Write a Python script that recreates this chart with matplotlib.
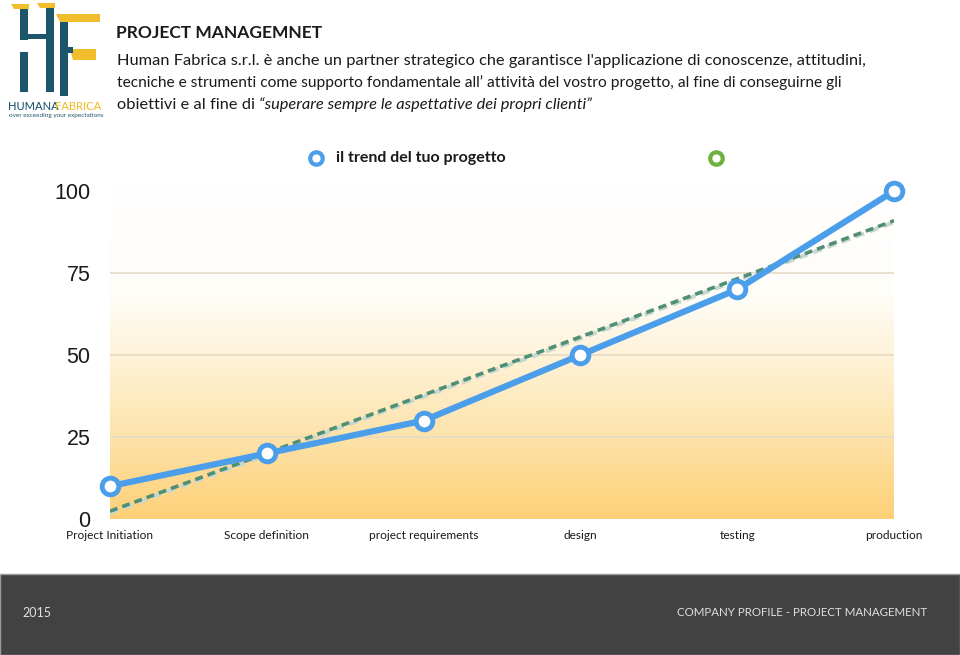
import numpy as np
import matplotlib
matplotlib.use("Agg")
from matplotlib import pyplot as plt
from matplotlib.colors import LinearSegmentedColormap
from matplotlib.patches import Rectangle, Polygon
from matplotlib.lines import Line2D

# data
phases = ["Project Initiation", "Scope definition", "project requirements",
          "design", "testing", "production"]
trend_values = [10, 20, 30, 50, 70, 100]
y_ticks = [0, 25, 50, 75, 100]
legend_label = "il trend del tuo progetto"

title = "PROJECT MANAGEMNET"
body_lines = [
    "Human Fabrica s.r.l. è anche un partner strategico che garantisce l'applicazione di conoscenze, attitudini,",
    "tecniche e strumenti come supporto fondamentale all’ attività del vostro progetto, al fine di conseguirne gli",
]
body_last_plain = "obiettivi e al fine di "
body_last_italic = "“superare sempre le aspettative dei propri clienti”"
footer_left = "2015"
footer_right = "COMPANY PROFILE - PROJECT MANAGEMENT"

BLUE = "#4A9EEA"
GREEN_LINE = "#4E8F76"
GREEN_MARK = "#6DB23F"
TEAL = "#1D566B"
GOLD = "#F2BD2C"
TXT = "#1A1A1A"

plt.rcParams["font.family"] = ["Lato", "DejaVu Sans"]

W, H = 960, 655
fig = plt.figure(figsize=(W / 100, H / 100), dpi=100)
fig.patch.set_facecolor("white")


def fx(px):
    return px / W


def fy(py):
    return 1 - py / H


# chart axes: x 0..5 -> px 110..894, y 0..102 -> px 519..184.4
ymax = 102
top_px = 519 - ymax * 3.28
ax = fig.add_axes([fx(110), fy(519), fx(894) - fx(110), fy(top_px) - fy(519)])
x = np.arange(len(phases))
ax.set_xlim(0, len(phases) - 1)
ax.set_ylim(0, ymax)

# gradient background
cmap = LinearSegmentedColormap.from_list("bg", ["#FDD077", "#FEE9BC", "#FFFDF8", "#FFFFFF"])
grad = np.linspace(0, 1, 256).reshape(-1, 1)
ax.imshow(grad, aspect="auto", cmap=cmap, origin="lower",
          extent=[0, len(phases) - 1, 0, ymax], zorder=0)

for yt in y_ticks[1:-1]:
    ax.axhline(yt, color="#E5DAC6", lw=1.2, zorder=1)

# linear trend through the series
slope, intercept = np.polyfit(x, trend_values, 1)
fit = slope * x + intercept
ax.plot(x, fit - 0.5, color="#C9D8CF", lw=3, ls=(0, (2.2, 1.4)), zorder=2)
ax.plot(x, fit, color=GREEN_LINE, lw=2.6, ls=(0, (2.2, 1.4)), zorder=3)

ax.plot(x, trend_values, color=BLUE, lw=4.5, marker="o", markersize=12,
        markerfacecolor="white", markeredgecolor=BLUE, markeredgewidth=3.5,
        zorder=4, clip_on=False)

ax.set_xticks(x)
ax.set_xticklabels(phases, fontsize=8.6, color=TXT)
ax.set_yticks(y_ticks)
ax.set_yticklabels([str(v) for v in y_ticks], fontsize=15.5, color=TXT,
                   family=["Liberation Sans"])
ax.tick_params(axis="x", length=0, pad=8)
ax.tick_params(axis="y", length=0, pad=14)
for s in ax.spines.values():
    s.set_visible(False)

# legend
fig.add_artist(Line2D([fx(316)], [fy(158)], marker="o", markersize=9,
                      markerfacecolor="white", markeredgecolor=BLUE,
                      markeredgewidth=3, transform=fig.transFigure))
fig.text(fx(336), fy(158), legend_label, fontsize=11.5, fontweight="bold",
         color=TXT, va="center", ha="left")
fig.add_artist(Line2D([fx(716)], [fy(158)], marker="o", markersize=9,
                      markerfacecolor="white", markeredgecolor=GREEN_MARK,
                      markeredgewidth=3, transform=fig.transFigure))

# header text
fig.text(fx(116), fy(33), title, fontsize=12.5, fontweight="bold", color=TXT,
         va="center", ha="left")
fig.text(fx(117), fy(61), body_lines[0], fontsize=11.8, color=TXT, va="center")
fig.text(fx(117), fy(83), body_lines[1], fontsize=11.2, color=TXT, va="center")
t = fig.text(fx(117), fy(105), body_last_plain, fontsize=11.8, color=TXT, va="center")
fig.canvas.draw()
bb = t.get_window_extent()
fig.text(bb.x1 / W, fy(105), body_last_italic, fontsize=11.8, color=TXT,
         va="center", style="italic")

# logo
def rect(x0, y0, x1, y1, c):
    fig.add_artist(Rectangle((fx(x0), fy(y1)), fx(x1) - fx(x0), fy(y0) - fy(y1),
                             facecolor=c, edgecolor="none", transform=fig.transFigure))


def poly(pts, c):
    fig.add_artist(Polygon([(fx(a), fy(b)) for a, b in pts], closed=True,
                           facecolor=c, edgecolor="none", transform=fig.transFigure))


poly([(11, 4), (29, 4), (29, 9), (14, 9)], GOLD)
poly([(37, 3), (55, 3), (55, 8), (40, 8)], GOLD)
rect(20, 9, 28, 40, TEAL)
rect(20, 52, 28, 92, TEAL)
rect(28, 34, 46, 39, TEAL)
rect(46, 8, 54, 92, TEAL)
poly([(56, 14), (100, 14), (100, 22), (60, 22)], GOLD)
rect(60, 22, 68, 96, TEAL)
poly([(70, 49), (96, 49), (96, 60), (73, 60)], GOLD)
rect(68, 47, 73, 53, TEAL)
fig.text(fx(8), fy(106), "HUMANA", fontsize=8, color=TEAL, va="center", ha="left",
         fontweight="medium")
fig.text(fx(55), fy(106), "FABRICA", fontsize=8, color=GOLD, va="center", ha="left",
         fontweight="medium")
fig.text(fx(9), fy(116), "over exceeding your expectations", fontsize=4.6,
         color=TEAL, va="center", ha="left")

# footer
fig.add_artist(Rectangle((0, 0), 1, fy(574), facecolor="#424242",
                         edgecolor="#9A9A9A", lw=1, transform=fig.transFigure))
fig.text(fx(22), fy(613), footer_left, fontsize=9, color="#E0E0E0", va="center")
fig.text(fx(927), fy(613), footer_right, fontsize=8.3, color="#E0E0E0",
         va="center", ha="right")

fig.savefig("out.png", dpi=100)
